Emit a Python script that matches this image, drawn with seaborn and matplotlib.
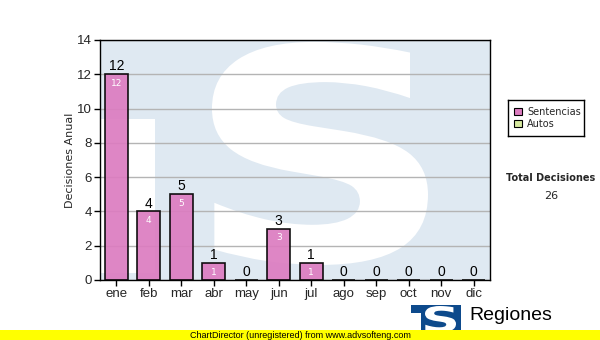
import matplotlib
matplotlib.use("Agg")
import matplotlib.pyplot as plt
import seaborn as sns
import pandas as pd
from matplotlib.patches import Rectangle, PathPatch
from matplotlib.textpath import TextPath
from matplotlib.font_manager import FontProperties
from matplotlib.transforms import Affine2D

months = ["ene", "feb", "mar", "abr", "may", "jun", "jul", "ago", "sep", "oct", "nov", "dic"]
sentencias = [12, 4, 5, 1, 0, 3, 1, 0, 0, 0, 0, 0]
total = 26

sns.set_theme(style="white")
plt.rcParams['font.family'] = ['Liberation Sans', 'DejaVu Sans']

WM_BLUE = "#dfe9f2"
BAR = "#dc7cc0"

df = pd.DataFrame({"mes": months, "Sentencias": sentencias})

fig = plt.figure(figsize=(6, 3.4), dpi=100)
ax = fig.add_axes([0.1667, 0.1765, 0.65, 0.7059])
ax.set_facecolor(WM_BLUE)


def s_patch(x0, y0, x1, y1, transform, color, zorder):
    tp = TextPath((0, 0), "S", size=100, prop=FontProperties(family="DejaVu Sans", weight="bold"))
    ext = tp.get_extents()
    sx = (x1 - x0) / ext.width
    sy = (y1 - y0) / ext.height
    tr = Affine2D().translate(-ext.x0, -ext.y0).scale(sx, sy).translate(x0, y0)
    p = tr.transform_path(tp)
    return PathPatch(p, facecolor=color, edgecolor="none", transform=transform, zorder=zorder)


# watermark: white notch + white S on light blue
ax.add_patch(Rectangle((0, 0.03), 0.141, 0.64, transform=ax.transAxes,
                       facecolor="white", edgecolor="none", zorder=0.2))
ax.add_patch(s_patch(0.287, 0.0625, 0.841, 0.992, ax.transAxes, "white", 0.3))

sns.barplot(data=df, x="mes", y="Sentencias", ax=ax, color=BAR, saturation=1,
            width=0.71, edgecolor="black", linewidth=1.2, alpha=0.92, zorder=3)

ax.set_ylim(0, 14)
ax.set_yticks(range(0, 15, 2))
ax.yaxis.grid(True, color="#b4b4b4", linewidth=1)
for l in ax.get_ygridlines():
    l.set_zorder(1)
ax.set_xlabel("")
ax.set_ylabel("Decisiones Anual", fontsize=8, labelpad=1, family="DejaVu Sans")
ax.tick_params(axis="both", which="both", direction="out", length=4, width=1, color="black",
               bottom=True, left=True, labelsize=9.5, pad=2)
for s in ax.spines.values():
    s.set_color("black")
    s.set_linewidth(1)
    s.set_visible(True)
    s.set_zorder(6)

for i, v in enumerate(sentencias):
    ax.text(i, v + 0.05, str(v), ha="center", va="bottom", fontsize=10, color="black", zorder=5)
    if v > 0:
        ax.text(i, v - 0.28, str(v), ha="center", va="top", fontsize=6.5, color="white",
                family="DejaVu Sans", zorder=5)

# legend
lax = fig.add_axes([508/600, 1-136/340, 76/600, 36/340])
lax.set_xlim(0, 1); lax.set_ylim(0, 1)
lax.set_xticks([]); lax.set_yticks([])
for s in lax.spines.values():
    s.set_color("black"); s.set_linewidth(1)
lax.add_patch(Rectangle((0.08, 0.58), 0.11, 0.2, facecolor=BAR, edgecolor="black", lw=0.8))
lax.add_patch(Rectangle((0.08, 0.24), 0.11, 0.2, facecolor="#d7eaa0", edgecolor="black", lw=0.8))
lax.text(0.25, 0.68, "Sentencias", fontsize=7, va="center", family="DejaVu Sans")
lax.text(0.25, 0.34, "Autos", fontsize=7, va="center", family="DejaVu Sans")

fig.text(551/600, 1-178/340, "Total Decisiones", fontsize=7, fontweight="bold", ha="center",
         va="center", family="DejaVu Sans")
fig.text(551/600, 1-196/340, str(total), fontsize=8, ha="center", va="center", family="DejaVu Sans")

# bottom logo
LOGO = "#0d4a8c"
fig.patches.append(Rectangle((411/600, 10/340), 50/600, 25/340, transform=fig.transFigure,
                             facecolor=LOGO, edgecolor="none", zorder=1))
fig.patches.append(Rectangle((411/600, 10/340), 10/600, 17/340, transform=fig.transFigure,
                             facecolor="white", edgecolor="none", zorder=2))
fig.patches.append(s_patch(425/600, 8/340, 456/600, 34/340, fig.transFigure, "white", 2))
fig.text(469/600, 24/340, "Regiones", fontsize=14, ha="left", va="center", color="black")

# yellow strip
fig.patches.append(Rectangle((0, 0), 1, 10/340, transform=fig.transFigure,
                             facecolor="#ffff00", edgecolor="none", zorder=3))
fig.text(190/600, 5/340, "ChartDirector (unregistered) from www.advsofteng.com", fontsize=6.5,
         ha="left", va="center", color="black", zorder=4)

fig.savefig("out.png", dpi=100)
